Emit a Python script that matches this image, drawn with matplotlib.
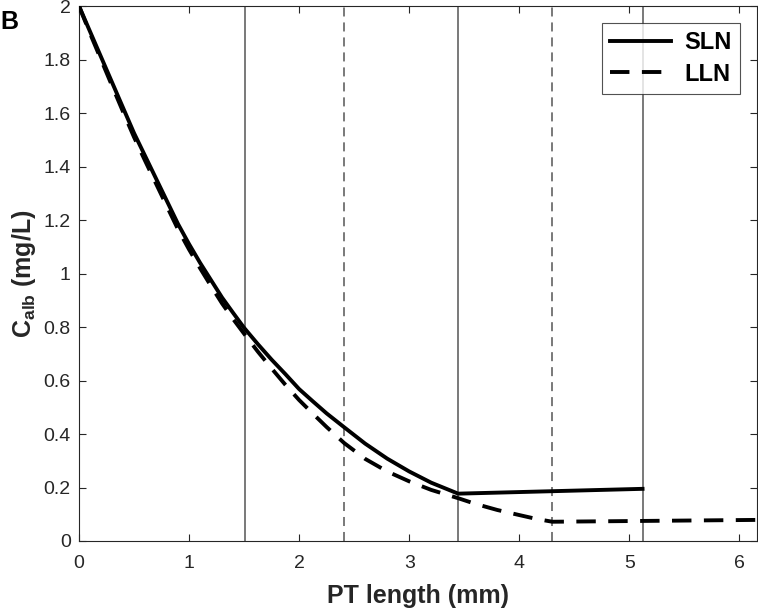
import matplotlib
matplotlib.use("Agg")
import matplotlib.pyplot as plt

plt.rcParams['font.family'] = ['Liberation Sans', 'DejaVu Sans']
plt.rcParams['mathtext.fontset'] = 'custom'
plt.rcParams['mathtext.rm'] = 'Liberation Sans'
plt.rcParams['mathtext.bf'] = 'Liberation Sans:bold'

# Data
sln_x = [0.0, 0.1, 0.2, 0.3, 0.4, 0.5, 0.6, 0.7, 0.8, 0.9, 1.0, 1.1, 1.2, 1.3, 1.4, 1.5,
         1.625, 1.75, 1.875, 2.0, 2.125, 2.25, 2.41, 2.6, 2.8, 3.0, 3.2, 3.445, 5.12]
sln_y = [2.0, 1.905, 1.81, 1.715, 1.62, 1.525, 1.44, 1.355, 1.27, 1.185, 1.11, 1.04, 0.975, 0.91, 0.853, 0.797,
         0.736, 0.678, 0.624, 0.568, 0.522, 0.477, 0.425, 0.364, 0.308, 0.26, 0.218, 0.177, 0.195]

lln_x = [0.0, 0.1, 0.2, 0.3, 0.4, 0.5, 0.6, 0.7, 0.8, 0.9, 1.0, 1.1, 1.2, 1.3, 1.4, 1.5,
         1.625, 1.75, 1.875, 2.0, 2.125, 2.25, 2.41, 2.6, 2.8, 3.0, 3.2, 3.445,
         3.6, 3.8, 4.0, 4.15, 4.3, 5.12, 6.2]
lln_y = [2.0, 1.898, 1.80, 1.702, 1.605, 1.51, 1.422, 1.336, 1.25, 1.165, 1.09, 1.02, 0.953, 0.888, 0.83, 0.775,
         0.708, 0.645, 0.584, 0.527, 0.476, 0.426, 0.366, 0.307, 0.26, 0.223, 0.191, 0.16,
         0.139, 0.116, 0.097, 0.083, 0.072, 0.075, 0.079]

solid_vlines = [1.51, 3.445, 5.12]
dashed_vlines = [2.41, 4.3]

x_ticks = [0, 1, 2, 3, 4, 5, 6]
y_ticks = [0, 0.2, 0.4, 0.6, 0.8, 1.0, 1.2, 1.4, 1.6, 1.8, 2.0]
y_ticklabels = ['0', '0.2', '0.4', '0.6', '0.8', '1', '1.2', '1.4', '1.6', '1.8', '2']

fig = plt.figure(figsize=(7.58, 6.08), dpi=100)
ax = fig.add_axes([0.1042, 0.1102, 0.8945, 0.8799])

for xv in solid_vlines:
    ax.axvline(xv, color='#6e6e6e', lw=1.3, zorder=1)
for xv in dashed_vlines:
    ax.axvline(xv, color='#6e6e6e', lw=1.3, dashes=(5, 3.3), zorder=1)

ax.plot(sln_x, sln_y, color='black', lw=2.8, label='SLN', zorder=3,
        solid_joinstyle='round')
ax.plot(lln_x, lln_y, color='black', lw=2.8, dashes=(5, 3.2), label='LLN', zorder=3)

ax.set_xlim(0, 6.16)
ax.set_ylim(0, 2)
ax.set_xticks(x_ticks)
ax.set_yticks(y_ticks)
ax.set_yticklabels(y_ticklabels)
ax.tick_params(direction='in', top=True, right=True, labelsize=14, length=5,
               width=0.8, color='#262626', labelcolor='#262626')
ax.tick_params(axis='x', pad=10)
ax.tick_params(axis='y', pad=6)
for s in ax.spines.values():
    s.set_color('#262626')
    s.set_linewidth(0.8)

ax.set_xlabel('PT length (mm)', fontsize=18, fontweight='bold', color='#262626', labelpad=9)
ax.set_ylabel(r'C$_{\mathbf{alb}}$ (mg/L)', fontsize=18, fontweight='bold', color='#262626', labelpad=4)

leg = ax.legend(loc='upper right', bbox_to_anchor=(0.975, 0.968),
                prop={'weight': 'bold', 'size': 17}, frameon=True, fancybox=False,
                edgecolor='#262626', handlelength=2.6, borderpad=0.35, labelspacing=0.35,
                handletextpad=0.55, borderaxespad=0)
leg.get_frame().set_linewidth(0.8)

fig.text(0.0, 0.963, 'B', fontsize=18, fontweight='bold', va='center', ha='left')

fig.savefig('out.png', dpi=100)
